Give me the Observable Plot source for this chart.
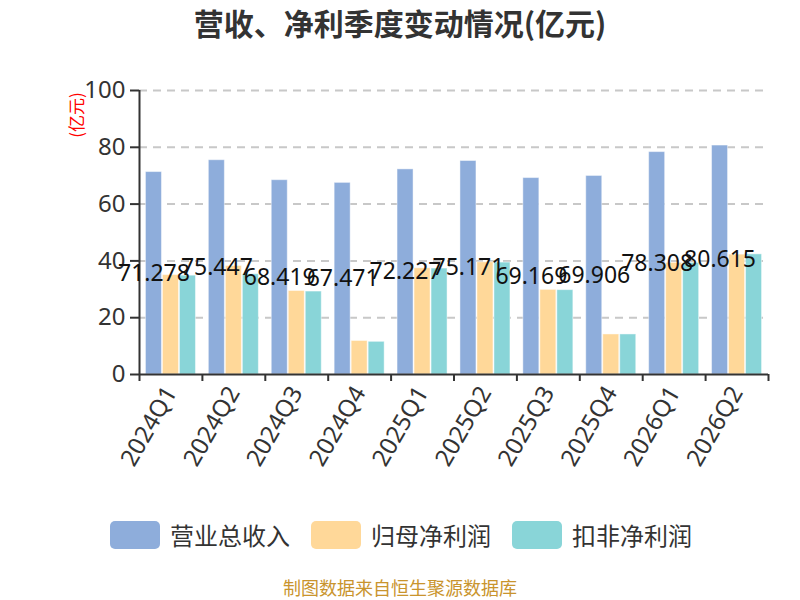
<!DOCTYPE html>
<html>
<head>
<meta charset="utf-8">
<script src="https://cdn.jsdelivr.net/npm/d3@7"></script>
<script src="https://cdn.jsdelivr.net/npm/@observablehq/plot@0.6"></script>
<style>
  html, body { margin: 0; padding: 0; background: #fff; }
  body { width: 800px; height: 600px; position: relative; overflow: hidden;
         font-family: "Noto Sans", "Noto Sans CJK SC", sans-serif; }
  #title { position: absolute; top: 0; left: 0; width: 800px; height: 45px; line-height: 45px;
           text-align: center; font-size: 30px; font-weight: bold; color: #333;
           font-family: "Noto Sans CJK SC", sans-serif; }
  #chart { position: absolute; top: 50px; left: 0; }
  #unit { position: absolute; left: 76px; top: 115px; transform: translate(-50%, -50%) rotate(-90deg);
          color: #ff0000; font-size: 17px; line-height: 20px; white-space: nowrap; font-family: "Noto Sans CJK SC", sans-serif; }
  #legend { position: absolute; top: 521px; left: 110px; display: flex; align-items: center; }
  .item { display: flex; align-items: center; margin-right: 21px; }
  .sw { width: 50px; height: 28px; border-radius: 5px; margin-right: 10px; }
  .lab { font-size: 24px; color: #333; font-family: "Noto Sans CJK SC", sans-serif; line-height: 28px; }
  #footer { position: absolute; top: 577px; left: 0; width: 800px; text-align: center; line-height: 20px;
            font-size: 18px; color: #c9942d; font-family: "Noto Sans CJK SC", sans-serif; }
</style>
</head>
<body>
<div id="title">营收、净利季度变动情况(亿元)</div>
<div id="chart"></div>
<div id="unit">(亿元)</div>
<div id="legend"></div>
<div id="footer">制图数据来自恒生聚源数据库</div>
<script>
const quarters = ["2024Q1","2024Q2","2024Q3","2024Q4","2025Q1","2025Q2","2025Q3","2025Q4","2026Q1","2026Q2"];
const revenue = [71.278, 75.447, 68.419, 67.471, 72.227, 75.171, 69.169, 69.906, 78.308, 80.615];
const netProfit = [35.0, 38.2, 29.4, 11.8, 37.4, 39.5, 29.8, 14.1, 39.3, 42.2];
const deductedProfit = [34.8, 35.3, 29.2, 11.5, 37.3, 39.4, 29.7, 14.1, 39.3, 42.3];
const seriesNames = ["营业总收入", "归母净利润", "扣非净利润"];
const colors = ["#8eaddb", "#ffd899", "#89d5d8"];
const yTicks = [0, 20, 40, 60, 80, 100];

const rows = quarters.map((q, i) => ({quarter: q, revenue: revenue[i], net: netProfit[i], deducted: deductedProfit[i]}));

const W = 800, H = 450, mL = 139, mR = 32, mT = 40, mB = 126;
const bw = (W - mL - mR) / quarters.length;
const barW = 16, gap = 1, pad = (bw - 3 * barW - 2 * gap) / 2;
const inset = k => ({insetLeft: pad + k * (barW + gap), insetRight: bw - pad - k * (barW + gap) - barW});
const barStyle = {stroke: "#ffffff", strokeOpacity: 0.45, strokeWidth: 1};

const chart = Plot.plot({
  width: W, height: H,
  marginLeft: mL, marginRight: mR, marginTop: mT, marginBottom: mB,
  style: {fontFamily: "Noto Sans, Noto Sans CJK SC, sans-serif", background: "#fff"},
  x: {type: "band", domain: quarters, padding: 0, round: false},
  y: {domain: [0, 100]},
  marks: [
    Plot.gridY(yTicks.filter(t => t > 0), {stroke: "#c8c8c8", strokeOpacity: 1, strokeWidth: 2, strokeDasharray: "8,6"}),
    Plot.barY(rows, {x: "quarter", y: "revenue", fill: colors[0], ...inset(0), ...barStyle}),
    Plot.barY(rows, {x: "quarter", y: "net", fill: colors[1], ...inset(1), ...barStyle}),
    Plot.barY(rows, {x: "quarter", y: "deducted", fill: colors[2], ...inset(2), ...barStyle}),
    Plot.ruleY([0], {stroke: "#333", strokeWidth: 2}),
    Plot.ruleX([quarters[0]], {y1: 0, y2: 100, dx: -bw / 2, stroke: "#333", strokeWidth: 2}),
    Plot.axisY({ticks: yTicks, tickSize: 9, tickPadding: 5, fontSize: 24, color: "#333", strokeWidth: 2, label: null}),
    Plot.axisX({ticks: quarters, tickSize: 7, tickFormat: () => "", dx: -bw / 2, stroke: "#333", strokeWidth: 2, label: null}),
    Plot.axisX({ticks: [quarters[quarters.length - 1]], tickSize: 7, tickFormat: () => "", dx: bw / 2, stroke: "#333", strokeWidth: 2, label: null}),
    Plot.axisX({tickSize: 0, tickPadding: 14, tickRotate: -60, fontSize: 24, color: "#333", dx: 0, label: null}),
    Plot.text(rows, {x: "quarter", y: d => d.revenue / 2, text: d => String(d.revenue),
      dx: pad + barW / 2 - bw / 2, fontSize: 23, fill: "#111"})
  ]
});
document.getElementById("chart").appendChild(chart);

const legend = document.getElementById("legend");
seriesNames.forEach((name, i) => {
  const it = document.createElement("div");
  it.className = "item";
  it.innerHTML = `<div class="sw" style="background:${colors[i]}"></div><div class="lab">${name}</div>`;
  legend.appendChild(it);
});
</script>
</body>
</html>
